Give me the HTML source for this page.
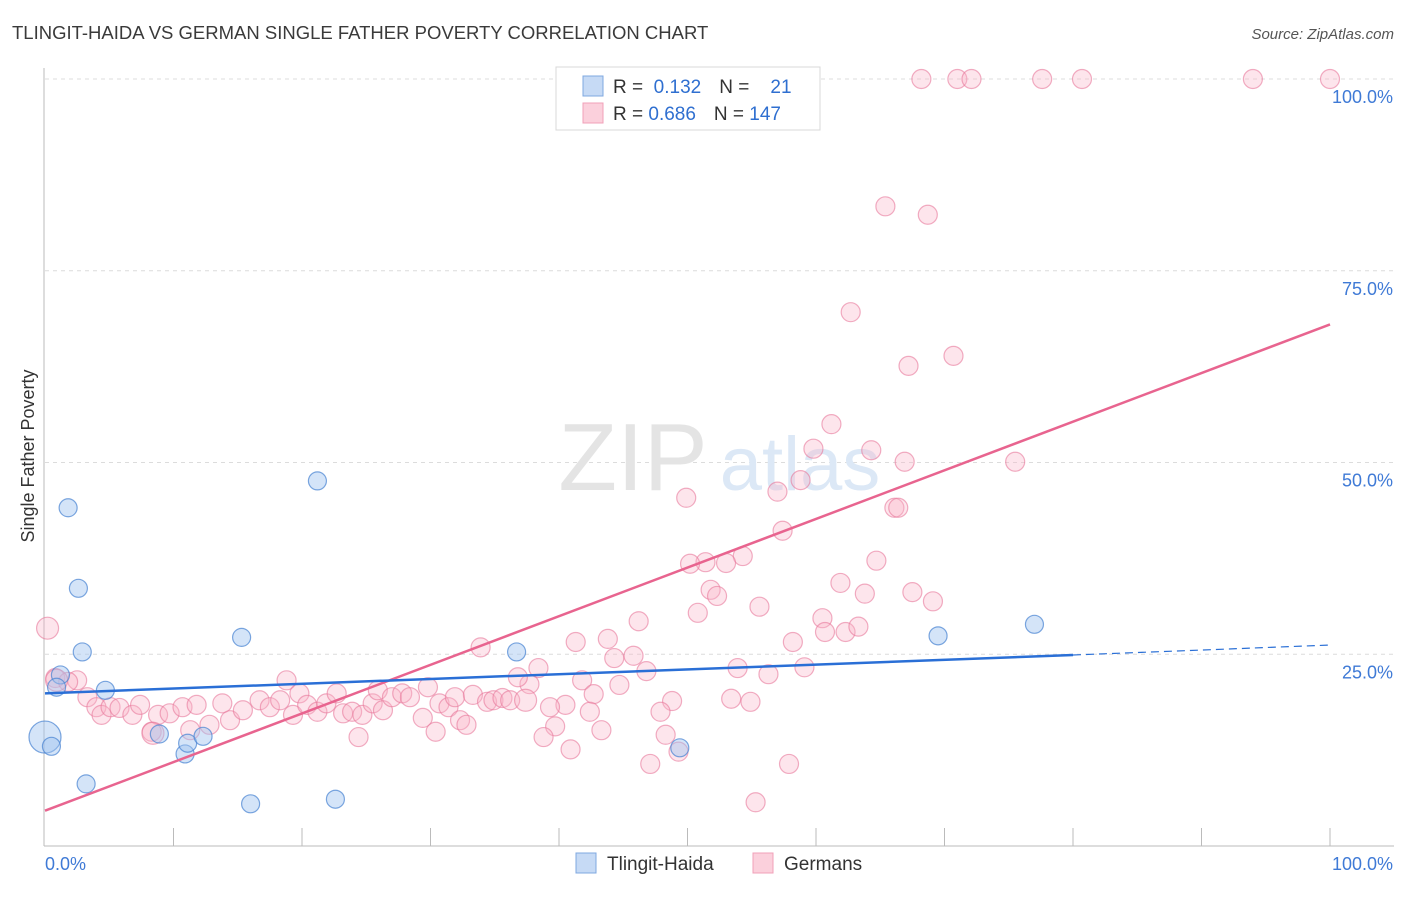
<!DOCTYPE html>
<html><head><meta charset="utf-8"><style>
body{margin:0;background:#fff;font-family:"Liberation Sans",sans-serif;}
svg text{font-family:"Liberation Sans",sans-serif;}
</style></head><body>
<svg id="chart" width="1406" height="892" xmlns="http://www.w3.org/2000/svg">
<text x="12" y="39" font-size="18.5" fill="#3a3a3a">TLINGIT-HAIDA VS GERMAN SINGLE FATHER POVERTY CORRELATION CHART</text>
<text x="1394" y="39" font-size="15" fill="#555" text-anchor="end" font-style="italic">Source: ZipAtlas.com</text>
<g id="grid"></g>
<g>
<text x="633" y="490" font-size="96" fill="#e4e4e4" text-anchor="middle" font-family="Liberation Serif">ZIP</text>
<text x="800" y="490" font-size="76" fill="#dce8f6" text-anchor="middle">atlas</text>
</g>
<g id="marks"></g>
<text transform="translate(34,456) rotate(-90)" font-size="18" fill="#333" text-anchor="middle">Single Father Poverty</text>
<g>
<rect x="556" y="67" width="264" height="63" fill="#fff" stroke="#d8d8d8"/>
<rect x="583" y="76" width="20" height="20" fill="#c6daf5" stroke="#7fa8e0"/>
<rect x="583" y="103" width="20" height="20" fill="#fbd0dc" stroke="#f0a0b8"/>
<text x="613" y="93" font-size="19" fill="#333">R = <tspan fill="#2f6fd0">&#160;0.132</tspan><tspan dx="18">N = </tspan><tspan fill="#2f6fd0">&#160;&#160;&#160;21</tspan></text>
<text x="613" y="120" font-size="19" fill="#333">R = <tspan fill="#2f6fd0">0.686</tspan><tspan dx="18">N = </tspan><tspan fill="#2f6fd0">147</tspan></text>
</g>
<g>
<rect x="576" y="853" width="20" height="20" fill="#c6daf5" stroke="#7fa8e0"/>
<text x="607" y="870" font-size="19" fill="#333">Tlingit-Haida</text>
<rect x="753" y="853" width="20" height="20" fill="#fbd0dc" stroke="#f0a0b8"/>
<text x="784" y="870" font-size="19" fill="#333">Germans</text>
</g>
</svg>
<script>
const yTicks=[25,50,75,100];
const yTickLabels=["25.0%","50.0%","75.0%","100.0%"];
const xTickLabels=["0.0%","100.0%"];
const blueX=[1.8,2.6,2.9,1.2,0.9,4.7,0,0.5,3.2,8.9,10.9,11.1,12.3,15.3,16.0,21.2,22.6,36.7,49.4,69.5,77.0];
const blueY=[44.1,33.6,25.3,22.3,20.7,20.3,14.2,13.0,8.1,14.6,12.0,13.4,14.3,27.2,5.5,47.6,6.1,25.3,12.8,27.4,28.9];
const blueR=[9,9,9,9,9,9,16,9,9,9,9,9,9,9,9,9,9,9,9,9,9];
const pinkX=[68.2,71.0,72.1,77.6,80.7,94.0,100,65.4,68.7,62.7,67.2,70.7,61.2,59.8,64.3,66.9,75.5,49.9,57.0,58.8,66.1,66.4,57.4,54.3,53.0,51.4,50.2,64.7,51.8,52.3,61.9,63.8,67.5,69.1,55.6,50.8,46.2,60.5,60.7,62.3,63.3,58.2,41.3,43.8,33.9,45.8,44.3,53.9,59.1,56.3,38.4,46.8,41.8,44.7,37.7,36.8,42.7,40.5,48.8,53.4,54.9,39.3,42.4,47.9,39.7,43.3,48.3,38.8,40.9,49.3,47.1,57.9,55.3,
0.2,0.8,2.5,1.8,3.3,4.0,4.4,5.1,5.8,6.8,7.4,8.3,8.8,9.7,10.7,11.8,11.3,12.8,13.8,14.4,15.4,16.7,17.5,18.3,18.8,19.8,19.3,20.4,21.2,21.9,22.7,23.2,23.9,24.4,24.7,25.5,25.9,26.3,27.0,27.8,28.4,29.4,29.8,30.4,30.7,31.4,31.9,32.3,32.8,33.3,34.4,34.9,35.6,36.2,37.4,8.4,0.9];
const pinkY=[100,100,100,100,100,100,100,83.4,82.3,69.6,62.6,63.9,55.0,51.8,51.6,50.1,50.1,45.4,46.2,47.7,44.1,44.1,41.1,37.8,36.9,37.0,36.8,37.2,33.4,32.6,34.3,32.9,33.1,31.9,31.2,30.4,29.3,29.7,27.9,27.9,28.6,26.6,26.6,27.0,25.9,24.8,24.5,23.2,23.3,22.4,23.2,22.8,21.6,21.0,21.1,22.0,19.8,18.4,18.9,19.2,18.8,18.1,17.5,17.5,15.6,15.1,14.5,14.2,12.6,12.3,10.7,10.7,5.7,
28.4,21.9,21.6,21.4,19.4,18.1,17.1,18.1,18.0,17.1,18.4,14.9,17.1,17.3,18.1,18.4,15.1,15.8,18.6,16.4,17.7,19.0,18.1,19.0,21.6,19.9,17.1,18.4,17.5,18.6,19.9,17.3,17.5,14.2,17.1,18.6,20.3,17.7,19.4,19.9,19.4,16.7,20.7,14.9,18.6,18.1,19.4,16.4,15.8,19.7,18.8,19.0,19.3,19.0,19.0,14.7,21.6];
const blueTrend=[19.9,24.9,26.2]; // values at x=0, 80, 100
const pinkTrend=[4.6,68.0]; // values at x=0, 100
const X0=45,X1=1330,Y0=846,Y100=79;
const sx=v=>X0+(X1-X0)*v/100, sy=v=>Y0-(Y0-Y100)*v/100;
const NS="http://www.w3.org/2000/svg";
function mk(tag,attrs,parent){const e=document.createElementNS(NS,tag);for(const k in attrs)e.setAttribute(k,attrs[k]);parent.appendChild(e);return e;}
const grid=document.getElementById('grid'), marks=document.getElementById('marks');
yTicks.forEach((t,i)=>{
 const l=mk('line',{x1:45,x2:1394,y1:sy(t),y2:sy(t),stroke:'#dcdcdc','stroke-dasharray':'4,4'},grid);
 
 
 const tx=mk('text',{x:1393,y:sy(t)+24,'font-size':18,fill:'#3f7ad6','text-anchor':'end'},grid);
 tx.textContent=yTickLabels[i];
 
 
});
const ax=mk('line',{x1:44,x2:44,y1:68,y2:846,stroke:'#bbb'},grid);


const bx=mk('line',{x1:44,x2:1394,y1:846,y2:846,stroke:'#bbb'},grid);


for(let i=1;i<=10;i++){
 const t=mk('line',{x1:sx(i*10),x2:sx(i*10),y1:828,y2:846,stroke:'#bbb'},grid);
 
 
}
const xl0=mk('text',{x:45,y:870,'font-size':18,fill:'#3f7ad6'},grid);xl0.textContent=xTickLabels[0];


const xl1=mk('text',{x:1393,y:870,'font-size':18,fill:'#3f7ad6','text-anchor':'end'},grid);xl1.textContent=xTickLabels[1];


pinkX.forEach((x,i)=>{
 const c=mk('circle',{cx:sx(x),cy:sy(pinkY[i]),r:(i>=pinkX.length-3||i==73)?11:9.5,fill:'rgba(248,180,200,0.35)',stroke:'rgba(232,120,155,0.6)','stroke-width':1.2},marks);
 
 
});
blueX.forEach((x,i)=>{
 const c=mk('circle',{cx:sx(x),cy:sy(blueY[i]),r:blueR[i],fill:'rgba(160,196,240,0.45)',stroke:'rgba(70,130,210,0.7)','stroke-width':1.2},marks);
 
 
});
const pl=mk('line',{x1:sx(0),y1:sy(pinkTrend[0]),x2:sx(100),y2:sy(pinkTrend[1]),stroke:'#e8648f','stroke-width':2.5},marks);


const bl=mk('line',{x1:sx(0),y1:sy(blueTrend[0]),x2:sx(80),y2:sy(blueTrend[1]),stroke:'#2a6fd6','stroke-width':2.5},marks);


const bd=mk('line',{x1:sx(80),y1:sy(blueTrend[1]),x2:sx(100),y2:sy(blueTrend[2]),stroke:'#2a6fd6','stroke-width':1.2,'stroke-dasharray':'8,5'},marks);


</script>
</body></html>
